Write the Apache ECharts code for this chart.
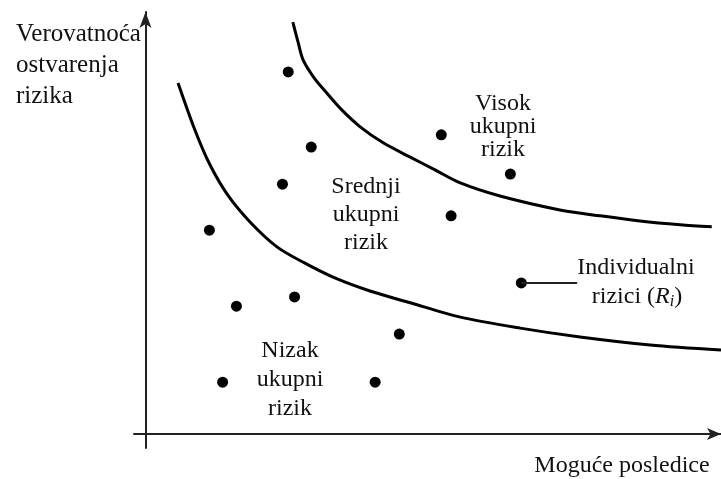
<!DOCTYPE html>
<html>
<head>
<meta charset="utf-8">
<script src="https://cdn.jsdelivr.net/npm/echarts@6/dist/echarts.min.js"></script>
<style>
  html, body { margin: 0; padding: 0; background: #fff; }
  #chart { width: 721px; height: 479px; }
</style>
</head>
<body>
<div id="chart"></div>
<script>
// values (x: posledice, y: verovatnoca, 0..100 scale)
var pointsX = [24.8, 28.8, 23.8, 11.1, 15.8, 25.9, 44.1, 13.4, 39.9, 51.4, 63.4, 53.1, 65.3];
var pointsY = [85.8, 68.0, 59.2, 48.3, 30.3, 32.5, 23.7, 12.3, 12.3, 70.9, 61.6, 51.7, 35.8];

var lowerX = [5.65, 8.6, 11.2, 14.3, 18.2, 22.9, 27.7, 32.9, 39.0, 46.0, 54.7, 65.1, 75.5, 87.7, 100];
var lowerY = [83.2, 72.0, 63.8, 56.6, 50.2, 44.3, 40.5, 37.0, 33.9, 31.1, 27.7, 25.1, 23.0, 21.1, 19.9];

var upperX = [25.6, 26.5, 27.4, 29.3, 31.5, 34.1, 37.3, 41.3, 46.0, 50.3, 54.7, 61.6, 72.0, 79.0, 85.9, 92.9, 98.4];
var upperY = [97.6, 92.9, 88.6, 84.4, 80.8, 76.8, 72.8, 69.0, 65.6, 62.6, 59.5, 56.4, 53.1, 51.7, 50.5, 49.6, 49.1];

// leader line from the marked risk to its label
var leaderX = [65.3, 75.0];
var leaderY = [35.8, 35.8];

function zip(xs, ys) {
    var out = [];
    for (var i = 0; i < xs.length; i++) {
        out.push([xs[i], ys[i]]);
    }
    return out;
}

var myChart = echarts.init(document.getElementById('chart'));
var ink = '#111';
var font = '24px "Liberation Serif", "DejaVu Serif", serif';

function label(x, y, text, align, lh, f) {
    return {
        type: 'text',
        x: x,
        y: y,
        style: {
            text: text,
            font: f || font,
            fill: ink,
            align: align || 'center',
            verticalAlign: 'top',
            lineHeight: lh || 28
        }
    };
}

var curveStyle = { color: '#000', width: 3 };

var option = {
    backgroundColor: '#fff',
    animation: false,
    grid: { left: 134, right: 0, top: 12, bottom: 31 },
    xAxis: {
        type: 'value',
        min: -2,
        max: 100,
        axisLine: {
            onZero: true,
            symbol: ['none', 'arrow'],
            symbolSize: [9, 14],
            lineStyle: { color: '#222', width: 2 }
        },
        axisTick: { show: false },
        axisLabel: { show: false },
        splitLine: { show: false }
    },
    yAxis: {
        type: 'value',
        min: -3.3,
        max: 100,
        axisLine: {
            show: true,
            onZero: true,
            symbol: ['none', 'arrow'],
            symbolSize: [9, 16],
            lineStyle: { color: '#222', width: 2 }
        },
        axisTick: { show: false },
        axisLabel: { show: false },
        splitLine: { show: false }
    },
    series: [
        {
            name: 'upper',
            type: 'line',
            data: zip(upperX, upperY),
            smooth: 0.3,
            symbol: 'none',
            clip: false,
            lineStyle: curveStyle
        },
        {
            name: 'lower',
            type: 'line',
            data: zip(lowerX, lowerY),
            smooth: 0.3,
            symbol: 'none',
            clip: false,
            lineStyle: curveStyle
        },
        {
            name: 'leader',
            type: 'line',
            data: zip(leaderX, leaderY),
            symbol: 'none',
            lineStyle: { color: '#222', width: 2 }
        },
        {
            name: 'rizici',
            type: 'scatter',
            data: zip(pointsX, pointsY),
            symbol: 'circle',
            symbolSize: 11,
            itemStyle: { color: '#000', opacity: 1 }
        }
    ],
    graphic: [
        label(16, 19, 'Verovatnoća\nostvarenja\nrizika', 'left', 31, '25px "Liberation Serif", "DejaVu Serif", serif'),
        label(622, 452, 'Moguće posledice'),
        label(503, 92, 'Visok\nukupni\nrizik', 'center', 23),
        label(366, 173, 'Srednji\nukupni\nrizik', 'center', 28),
        label(290, 336, 'Nizak\nukupni\nrizik', 'center', 29),
        label(636, 254, 'Individualni', 'center'),
        {
            type: 'text',
            x: 637,
            y: 284,
            style: {
                text: 'rizici ({it|R}{sub|i})',
                font: font,
                fill: ink,
                align: 'center',
                verticalAlign: 'top',
                rich: {
                    it: { font: 'italic ' + font, fill: ink },
                    sub: {
                        font: 'italic 16px "Liberation Serif", serif',
                        fill: ink,
                        verticalAlign: 'bottom',
                        padding: [10, 0, 0, 0]
                    }
                }
            }
        }
    ]
};

myChart.setOption(option);
</script>
</body>
</html>
